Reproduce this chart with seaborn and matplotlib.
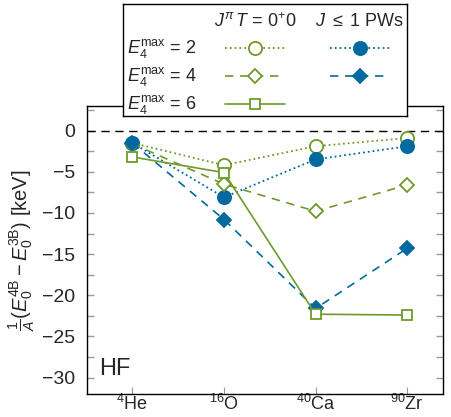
import matplotlib
matplotlib.use("Agg")
import matplotlib.pyplot as plt
import numpy as np
import pandas as pd
import seaborn as sns
from matplotlib.ticker import MultipleLocator

# ---- data ----
nuclei = ["$^{4}$He", "$^{16}$O", "$^{40}$Ca", "$^{90}$Zr"]
e2_jt00 = [-1.5, -4.2, -1.9, -0.9]
e2_j1 = [-1.5, -8.1, -3.5, -1.9]
e4_jt00 = [-1.6, -6.5, -9.8, -6.6]
e4_j1 = [-1.5, -10.8, -21.6, -14.3]
e6_jt00 = [-3.2, -5.1, -22.3, -22.4]
row_labels = ["$E_4^{\\rm max}$ = 2", "$E_4^{\\rm max}$ = 4", "$E_4^{\\rm max}$ = 6"]
col_headers = ["$J^{\\pi}\\,T$ = 0$^{+}$0", "$J$ $\\leq$ 1 PWs"]

GREEN = "#6f9a2a"
BLUE = "#006aa0"

sns.set_style("ticks")
plt.rcParams["font.family"] = ["Liberation Sans", "DejaVu Sans"]
plt.rcParams["mathtext.fontset"] = "custom"
plt.rcParams["mathtext.rm"] = "Liberation Sans"
plt.rcParams["mathtext.it"] = "Liberation Sans:italic"
plt.rcParams["mathtext.bf"] = "Liberation Sans:bold"
plt.rcParams["mathtext.sf"] = "Liberation Sans"

fig = plt.figure(figsize=(4.51, 4.17), dpi=100)
ax = fig.add_axes([0.192, 0.055, 0.790, 0.691])

x = np.arange(len(nuclei))
series = [
    dict(y=e2_jt00, color=GREEN, ls=":", marker="o", ms=9.5, filled=False, lw=1.3),
    dict(y=e2_j1, color=BLUE, ls=":", marker="o", ms=9.5, filled=True, lw=1.3),
    dict(y=e4_jt00, color=GREEN, ls=(0, (5, 4)), marker="D", ms=7.5, filled=False, lw=1.2),
    dict(y=e4_j1, color=BLUE, ls=(0, (5, 4)), marker="D", ms=7.5, filled=True, lw=1.2),
    dict(y=e6_jt00, color=GREEN, ls="-", marker="s", ms=7, filled=False, lw=1.2),
]

ax.axhline(0, color="black", lw=1.0, ls=(0, (6, 4)), zorder=1)

for s in series:
    df = pd.DataFrame({"x": x, "y": s["y"]})
    sns.lineplot(data=df, x="x", y="y", ax=ax, color=s["color"],
                 linestyle=s["ls"], lw=s["lw"], marker=s["marker"],
                 markersize=s["ms"],
                 markerfacecolor=s["color"] if s["filled"] else "white",
                 markeredgecolor=s["color"], markeredgewidth=1.3, zorder=3)

ax.set_xlim(-0.5, 3.39)
ax.set_ylim(-32, 3)
ax.set_xticks(x)
ax.set_xticklabels(nuclei, fontsize=13)
ax.yaxis.set_major_locator(MultipleLocator(5))
ax.yaxis.set_minor_locator(MultipleLocator(2.5))
ax.tick_params(axis="y", which="both", direction="in", left=True, right=True,
               color="#999999", labelsize=14, pad=8)
ax.tick_params(axis="y", which="major", length=5, width=1)
ax.tick_params(axis="y", which="minor", length=5, width=1)
ax.tick_params(axis="x", direction="in", length=5, color="#999999", bottom=True,
               pad=0)
ax.set_xlabel("")
ax.set_ylabel("$\\frac{1}{A}(E_0^{\\rm 4B} - E_0^{\\rm 3B})$ [keV]", fontsize=14.5,
              labelpad=4)
for sp in ax.spines.values():
    sp.set_color("black")
    sp.set_linewidth(1.0)
    sp.set_visible(True)

ax.text(0.035, 0.05, "HF", transform=ax.transAxes, fontsize=17, ha="left",
        va="bottom")

# ---- custom legend (pixel-based layout inside its own axes) ----
lg = fig.add_axes([123 / 451, 1 - 116 / 417, 284 / 451, 112 / 417], zorder=10)
lg.set_xlim(0, 284)
lg.set_ylim(112, 0)
lg.set_xticks([])
lg.set_yticks([])
lg.patch.set_facecolor("white")
for sp in lg.spines.values():
    sp.set_color("black")
    sp.set_linewidth(1.0)

lg.text(132, 18, col_headers[0], fontsize=13, ha="center", va="center")
lg.text(237, 18, col_headers[1], fontsize=13, ha="center", va="center")
rows_y = [44, 72, 100]
for i, (lab, yy) in enumerate(zip(row_labels, rows_y)):
    lg.text(4, yy, lab, fontsize=13, ha="left", va="center")
for s, col, row in [(series[0], 0, 0), (series[1], 1, 0), (series[2], 0, 1),
                    (series[3], 1, 1), (series[4], 0, 2)]:
    cx = 132 if col == 0 else 237
    yy = rows_y[row]
    lg.plot([cx - 30, cx + 30], [yy, yy], color=s["color"], ls=s["ls"], lw=s["lw"])
    lg.plot([cx], [yy], marker=s["marker"], ms=s["ms"], color=s["color"],
            markerfacecolor=s["color"] if s["filled"] else "white",
            markeredgewidth=1.3, ls="none")

fig.savefig("out.png", dpi=100)
